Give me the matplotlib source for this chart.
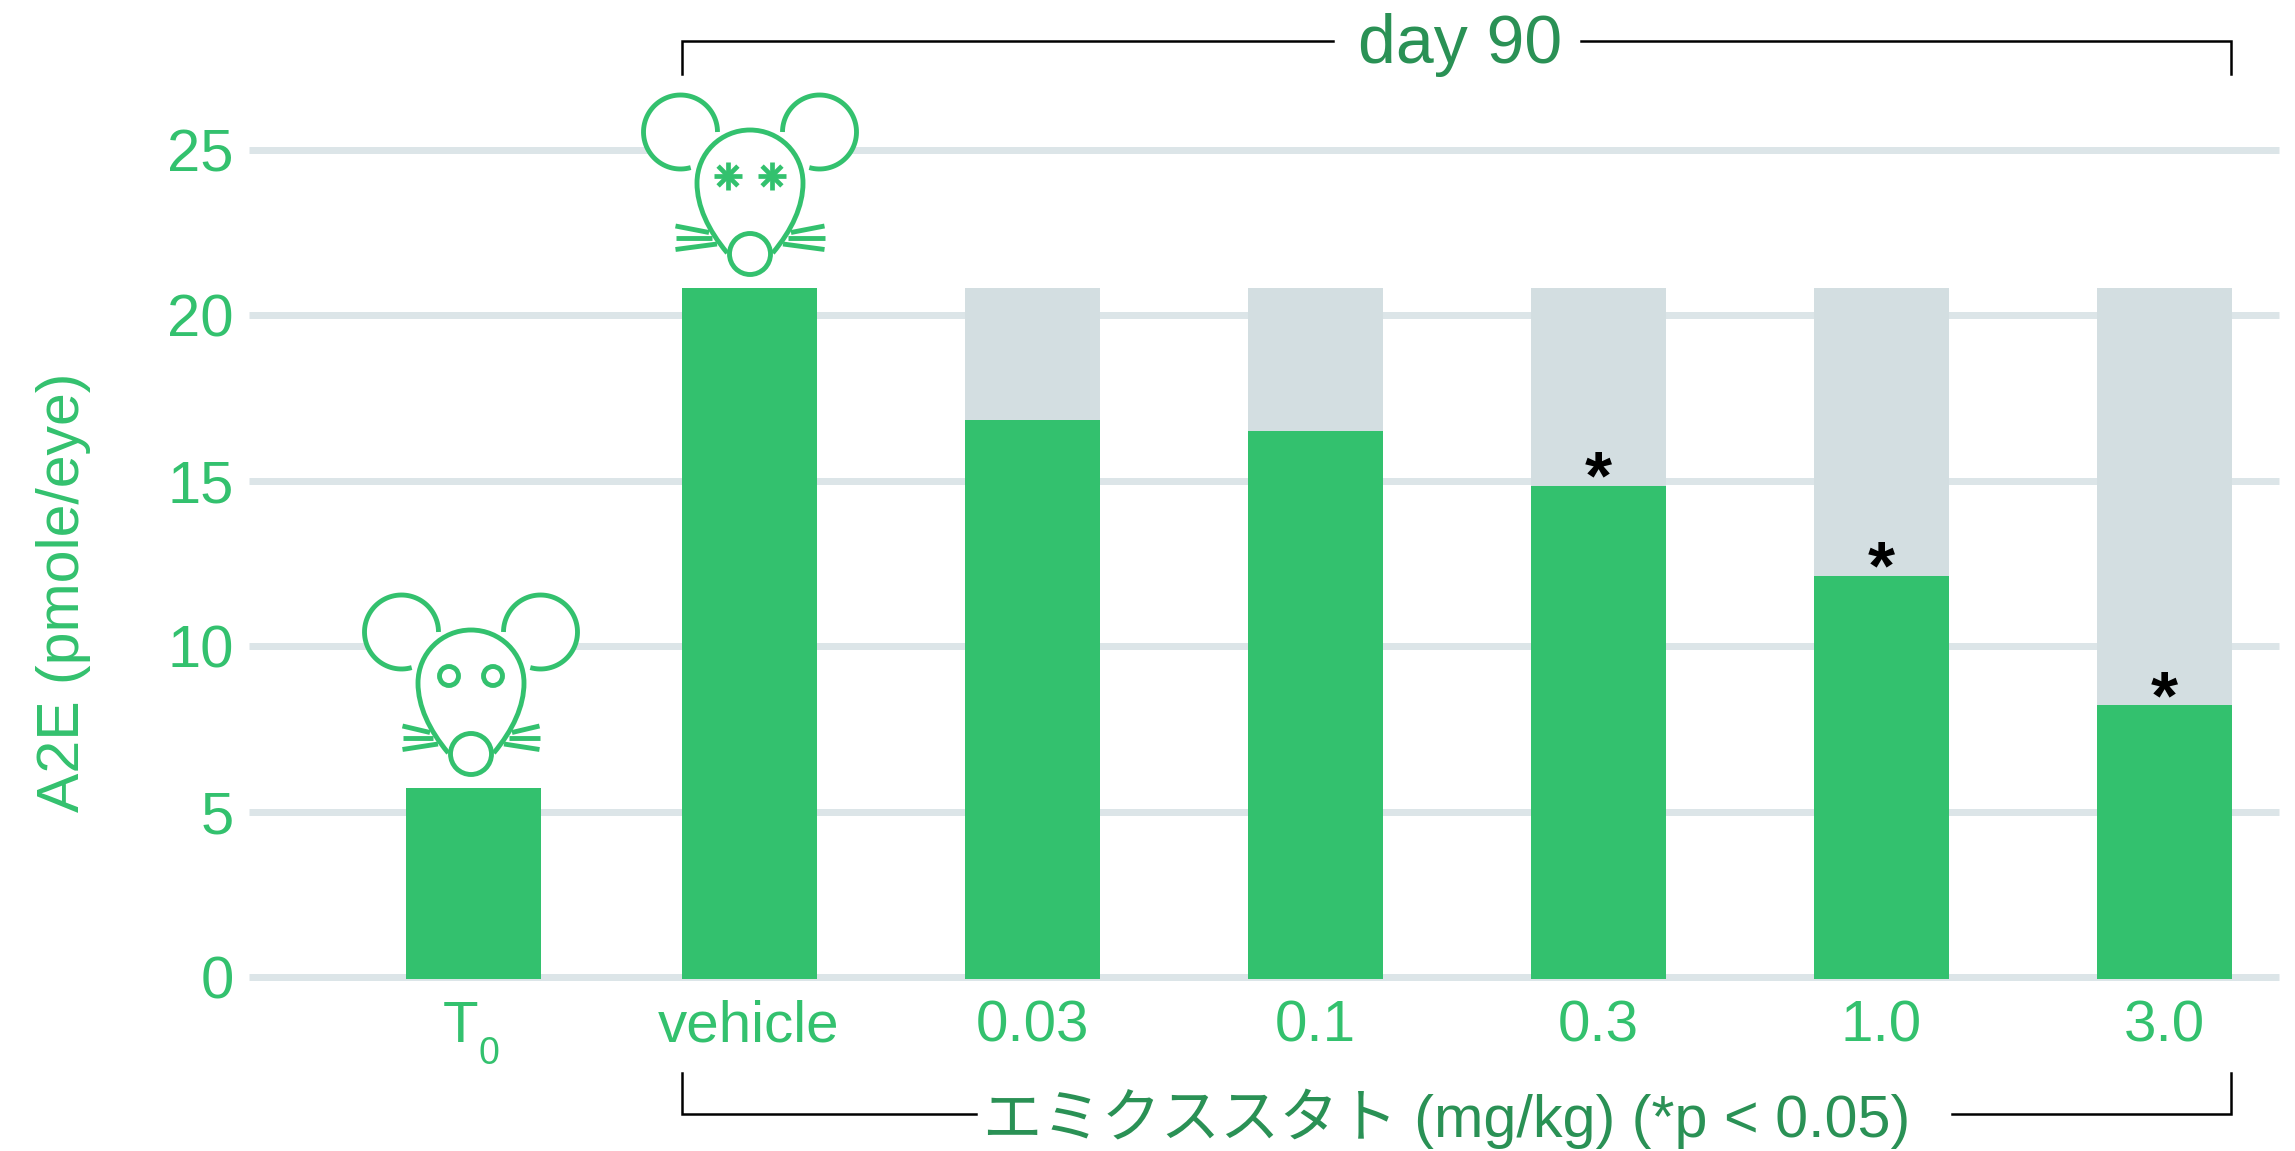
import numpy as np
import matplotlib
matplotlib.use("Agg")
import matplotlib.pyplot as plt
from matplotlib.patches import PathPatch, Circle
from matplotlib.path import Path

plt.rcParams['font.family'] = ['Liberation Sans', 'Noto Sans CJK JP']

categories = ["T0", "vehicle", "0.03", "0.1", "0.3", "1.0", "3.0"]
a2e_values = [5.72, 20.83, 16.84, 16.51, 14.85, 12.13, 8.22]
vehicle_level = [0, 20.83, 20.83, 20.83, 20.83, 20.83, 20.83]
significant = [False, False, False, False, True, True, True]
y_ticks = [0, 5, 10, 15, 20, 25]

GREEN = "#33c16e"
DARK_GREEN = "#2a9155"
GREY_BAR = "#d3dee1"
GRID = "#dce5e8"

fig = plt.figure(figsize=(22.95, 11.51), dpi=100)

# main chart, one bar step is 283 px
ax = fig.add_axes([249 / 2295, (1151 - 977) / 1151, (2279 - 249) / 2295, (977 - 150) / 1151])
bar_x = [0.028, 1, 2, 3, 4, 5, 6]
baseline = -0.06
ax.bar(bar_x, np.array(vehicle_level) - baseline, bottom=baseline, width=0.477,
       color=GREY_BAR, zorder=2, clip_on=False)
ax.bar(bar_x, np.array(a2e_values) - baseline, bottom=baseline, width=0.477,
       color=GREEN, zorder=3, clip_on=False)

ax.set_xlim(-0.767, 6.406)
ax.set_ylim(0, 25)
ax.set_yticks(y_ticks)
ax.set_xticks(bar_x[1:])
ax.set_xticklabels(categories[1:])
ax.tick_params(axis='both', length=0, labelcolor=GREEN)
ax.tick_params(axis='x', pad=16, labelsize=42)
ax.tick_params(axis='y', pad=11, labelsize=43)
ax.grid(axis='y', color=GRID, linewidth=5, zorder=1, solid_capstyle='butt')
ax.set_axisbelow(True)
for line in ax.get_ygridlines():
    line.set_clip_on(False)
for spine in ax.spines.values():
    spine.set_visible(False)

# significance stars just above the bars
for x, v, s in zip(bar_x, a2e_values, significant):
    if s:
        ax.annotate("*", (x, v), xytext=(0, -13), textcoords='offset pixels',
                    ha='center', va='baseline', fontsize=50, fontweight='bold',
                    color='black', zorder=5, annotation_clip=False)

# overlay in image pixels for brackets, labels and the mice
ov = fig.add_axes([0, 0, 1, 1], zorder=10)
ov.set_xlim(0, 2295)
ov.set_ylim(1151, 0)
ov.axis('off')
ov.patch.set_alpha(0)

ov.text(64, 592, "A2E (pmole/eye)", rotation=90, ha='center', va='center',
        fontsize=42.5, color=GREEN)
ov.text(443, 1042, "T", ha='left', va='baseline', fontsize=42, color=GREEN)
ov.text(478, 1064, "0", ha='left', va='baseline', fontsize=27, color=GREEN)

# top bracket
ov.plot([682, 682, 1333], [74, 41, 41], color='black', lw=1.8, solid_joinstyle='miter')
ov.plot([1581, 2231, 2231], [41, 41, 74], color='black', lw=1.8, solid_joinstyle='miter')
ov.text(1460, 63, "day 90", ha='center', va='baseline', fontsize=49, color=DARK_GREEN)

# bottom bracket
ov.plot([682, 682, 976], [1073, 1114, 1114], color='black', lw=1.8, solid_joinstyle='miter')
ov.plot([1952, 2231, 2231], [1114, 1114, 1073], color='black', lw=1.8, solid_joinstyle='miter')
ov.text(1447, 1137, "エミクススタト (mg/kg) (*p < 0.05)", ha='center', va='baseline',
        fontsize=42.7, color=DARK_GREEN)


def draw_mouse(cx, cy, dead):
    # cx, cy = head centre, shape sizes in px
    lw = 3.5
    whisker_end = 74.5 if dead else 68.5
    for side in [-1, 1]:
        ear_x = cx + side * 69.5
        ear_y = cy - 51
        ov.add_patch(Circle((ear_x, ear_y), 37, fc='white', ec='none', zorder=1))
        t = np.radians(np.linspace(0, 286, 80))
        ov.plot(ear_x - side * 37 * np.cos(t), ear_y - 37 * np.sin(t), color=GREEN, lw=lw,
                solid_capstyle='butt', zorder=2)
        # whiskers
        for y0, y1, inner in [(43, 49.5, 41), (55, 55, 38), (66.5, 61, 33)]:
            ov.plot([cx + side * whisker_end, cx + side * inner], [cy + y0, cy + y1], color=GREEN,
                    lw=lw, solid_capstyle='butt', zorder=2)
        # eyes
        eye_x = cx + side * 22
        eye_y = cy - 7
        if dead:
            for a in [0, 45, 90, 135]:
                dx = 14 * np.cos(np.radians(a))
                dy = 14 * np.sin(np.radians(a))
                ov.plot([eye_x - dx, eye_x + dx], [eye_y - dy, eye_y + dy], color=GREEN,
                        lw=3.4, solid_capstyle='butt', zorder=4)
        else:
            ov.add_patch(Circle((eye_x, eye_y), 9.5, fc='white', ec=GREEN, lw=lw, zorder=4))
    verts = [(-22.7, 70), (-42, 47), (-53, 23), (-53, 0),
             (-53, -30), (-29, -53), (0, -53),
             (29, -53), (53, -30), (53, 0),
             (53, 23), (42, 47), (22.7, 70)]
    codes = [Path.MOVETO] + [Path.CURVE4] * 12
    head = Path([(cx + a, cy + b) for a, b in verts], codes)
    ov.add_patch(PathPatch(head, fc='white', ec=GREEN, lw=lw, capstyle='butt', zorder=3))
    ov.add_patch(Circle((cx, cy + 71), 20.5, fc='white', ec=GREEN, lw=lw, zorder=4))


draw_mouse(471, 683, False)
draw_mouse(750, 183, True)

fig.savefig("out.png", dpi=100)
